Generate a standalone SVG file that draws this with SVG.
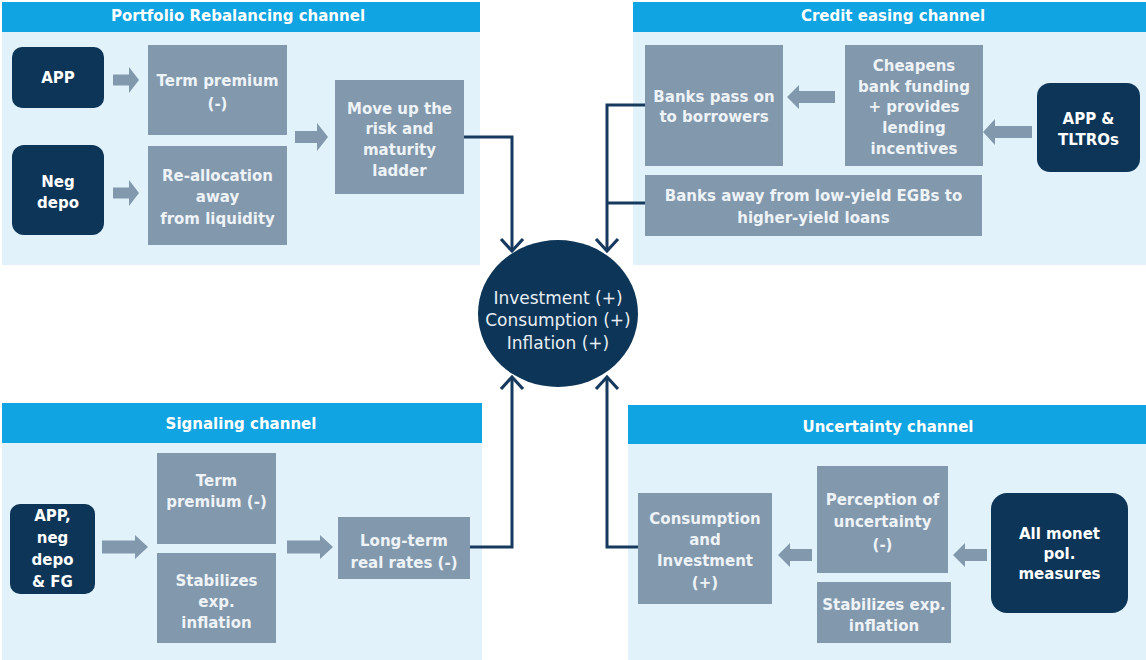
<svg xmlns="http://www.w3.org/2000/svg" width="1146" height="660" viewBox="0 0 1146 660">
<style>
.panel{fill:#e2f2fb}
.hdr{fill:#10a4e2}
.hdrt{font-family:"DejaVu Sans",sans-serif;font-weight:bold;font-size:15px;fill:#ffffff;text-anchor:middle}
.box{fill:#8298ac}
.navy{fill:#0c3557}
.bt{font-family:"DejaVu Sans",sans-serif;font-weight:bold;font-size:15px;fill:#eef3f7;text-anchor:middle}
.nt{font-family:"DejaVu Sans",sans-serif;font-weight:bold;font-size:15px;fill:#ffffff;text-anchor:middle}
.ct{font-family:"DejaVu Sans",sans-serif;font-size:17px;fill:#e8eef4;text-anchor:middle}
.barrow{fill:#8298ac}
.conn{fill:none;stroke:#163a5e;stroke-width:3}
</style>
<defs>
<marker id="ah" markerUnits="userSpaceOnUse" markerWidth="26" markerHeight="26" refX="14" refY="13" orient="auto">
<path d="M2,2 L14,13 L2,24" fill="none" stroke="#163a5e" stroke-width="3.2"/>
</marker>
</defs>
<rect width="1146" height="660" fill="#ffffff"/>

<!-- Panels -->
<g id="panel-portfolio">
<rect class="panel" x="2" y="32" width="478" height="233"/>
<rect class="hdr" x="2" y="2" width="478" height="30"/>
<text class="hdrt" x="238" y="20.5">Portfolio Rebalancing channel</text>
</g>
<g id="panel-credit">
<rect class="panel" x="633" y="32" width="513" height="233"/>
<rect class="hdr" x="633" y="2" width="513" height="30"/>
<text class="hdrt" x="893" y="20.5">Credit easing channel</text>
</g>
<g id="panel-signaling">
<rect class="panel" x="2" y="443" width="480" height="217"/>
<rect class="hdr" x="2" y="403" width="480" height="40"/>
<text class="hdrt" x="241" y="428.5">Signaling channel</text>
</g>
<g id="panel-uncertainty">
<rect class="panel" x="628" y="444" width="518" height="216"/>
<rect class="hdr" x="628" y="405" width="518" height="39"/>
<text class="hdrt" x="888" y="431.5">Uncertainty channel</text>
</g>

<!-- Connectors -->
<g id="connectors">
<path class="conn" d="M464,137 H512 V251" marker-end="url(#ah)"/>
<path class="conn" d="M645,105 H607 V251" marker-end="url(#ah)"/>
<path class="conn" d="M645,203 H607"/>
<path class="conn" d="M470,547 H512 V377" marker-end="url(#ah)"/>
<path class="conn" d="M638,547 H607 V377" marker-end="url(#ah)"/>
<!-- block arrows -->
<path class="barrow" d="M113,74.5 H129 V67 L139,80 L129,93 V85.5 H113 Z"/>
<path class="barrow" d="M113,187.5 H129 V180 L139,193 L129,206 V198.5 H113 Z"/>
<path class="barrow" d="M295,131 H317 V123 L328,137 L317,151 V143 H295 Z"/>
<path class="barrow" d="M835,91 H799 V85 L787,97 L799,109 V103 H835 Z"/>
<path class="barrow" d="M1032,126 H995 V119 L983,132 L995,145 V138 H1032 Z"/>
<path class="barrow" d="M102,540.5 H135 V535 L148,547 L135,559 V553.5 H102 Z"/>
<path class="barrow" d="M287,540.5 H320 V535 L333,547 L320,559 V553.5 H287 Z"/>
<path class="barrow" d="M812,549 H790 V543 L778,555 L790,567 V561 H812 Z"/>
<path class="barrow" d="M987,549 H965 V543 L953,555 L965,567 V561 H987 Z"/>
</g>

<!-- Portfolio nodes -->
<g id="n-app1">
<rect class="navy" x="12" y="47" width="92" height="61" rx="10"/>
<text class="nt" x="58" y="82.5">APP</text>
</g>
<g id="n-negdepo">
<rect class="navy" x="12" y="145" width="92" height="90" rx="12"/>
<text class="nt" x="58" y="187">Neg</text>
<text class="nt" x="58" y="207.5">depo</text>
</g>
<g id="n-termprem1">
<rect class="box" x="148" y="45" width="139" height="90"/>
<text class="bt" x="217.5" y="85.5">Term premium</text>
<text class="bt" x="217.5" y="108.5">(-)</text>
</g>
<g id="n-realloc">
<rect class="box" x="148" y="146" width="139" height="99"/>
<text class="bt" x="217.5" y="180.5">Re-allocation</text>
<text class="bt" x="217.5" y="202">away</text>
<text class="bt" x="217.5" y="223.5">from liquidity</text>
</g>
<g id="n-moveup">
<rect class="box" x="335" y="80" width="129" height="114"/>
<text class="bt" x="399.5" y="113.5">Move up the</text>
<text class="bt" x="399.5" y="134">risk and</text>
<text class="bt" x="399.5" y="155">maturity</text>
<text class="bt" x="399.5" y="175.5">ladder</text>
</g>

<!-- Credit nodes -->
<g id="n-bankspass">
<rect class="box" x="645" y="45" width="138" height="121"/>
<text class="bt" x="714" y="102">Banks pass on</text>
<text class="bt" x="714" y="122">to borrowers</text>
</g>
<g id="n-cheapens">
<rect class="box" x="845" y="45" width="138" height="121"/>
<text class="bt" x="914" y="70.5">Cheapens</text>
<text class="bt" x="914" y="91.5">bank funding</text>
<text class="bt" x="914" y="111.5">+ provides</text>
<text class="bt" x="914" y="132.5">lending</text>
<text class="bt" x="914" y="153.5">incentives</text>
</g>
<g id="n-apptltro">
<rect class="navy" x="1037" y="83" width="103" height="89" rx="13"/>
<text class="nt" x="1088.5" y="123.5">APP &amp;</text>
<text class="nt" x="1088.5" y="144.5">TLTROs</text>
</g>
<g id="n-banksaway">
<rect class="box" x="645" y="175" width="337" height="61"/>
<text class="bt" x="813.5" y="200.5">Banks away from low-yield EGBs to</text>
<text class="bt" x="813.5" y="222.5">higher-yield loans</text>
</g>

<!-- Center -->
<g id="n-center">
<ellipse cx="558" cy="313.5" rx="80" ry="73.5" fill="#0c3557"/>
<text class="ct" x="558" y="304">Investment (+)</text>
<text class="ct" x="558" y="326">Consumption (+)</text>
<text class="ct" x="558" y="349">Inflation (+)</text>
</g>

<!-- Signaling nodes -->
<g id="n-appneg">
<rect class="navy" x="10" y="504" width="85" height="90" rx="10"/>
<text class="nt" x="52.5" y="520.5">APP,</text>
<text class="nt" x="52.5" y="542.5">neg</text>
<text class="nt" x="52.5" y="564.5">depo</text>
<text class="nt" x="52.5" y="587">&amp; FG</text>
</g>
<g id="n-termprem2">
<rect class="box" x="157" y="453" width="119" height="91"/>
<text class="bt" x="216.5" y="485.5">Term</text>
<text class="bt" x="216.5" y="506.5">premium (-)</text>
</g>
<g id="n-stab1">
<rect class="box" x="157" y="553" width="119" height="90"/>
<text class="bt" x="216.5" y="585.5">Stabilizes</text>
<text class="bt" x="216.5" y="607">exp.</text>
<text class="bt" x="216.5" y="627.5">inflation</text>
</g>
<g id="n-longterm">
<rect class="box" x="338" y="517" width="132" height="62"/>
<text class="bt" x="404" y="545.5">Long-term</text>
<text class="bt" x="404" y="568">real rates (-)</text>
</g>

<!-- Uncertainty nodes -->
<g id="n-consinv">
<rect class="box" x="638" y="493" width="134" height="111"/>
<text class="bt" x="705" y="523.5">Consumption</text>
<text class="bt" x="705" y="544.5">and</text>
<text class="bt" x="705" y="565.5">Investment</text>
<text class="bt" x="705" y="588">(+)</text>
</g>
<g id="n-percep">
<rect class="box" x="817" y="466" width="131" height="107"/>
<text class="bt" x="882.5" y="504.5">Perception of</text>
<text class="bt" x="882.5" y="527">uncertainty</text>
<text class="bt" x="882.5" y="549.5">(-)</text>
</g>
<g id="n-stab2">
<rect class="box" x="817" y="582" width="134" height="61"/>
<text class="bt" x="884" y="609.5">Stabilizes exp.</text>
<text class="bt" x="884" y="630.5">inflation</text>
</g>
<g id="n-allmonet">
<rect class="navy" x="991" y="493" width="137" height="120" rx="16"/>
<text class="nt" x="1059.5" y="538.5">All monet</text>
<text class="nt" x="1059.5" y="558.5">pol.</text>
<text class="nt" x="1059.5" y="578.5">measures</text>
</g>
</svg>
